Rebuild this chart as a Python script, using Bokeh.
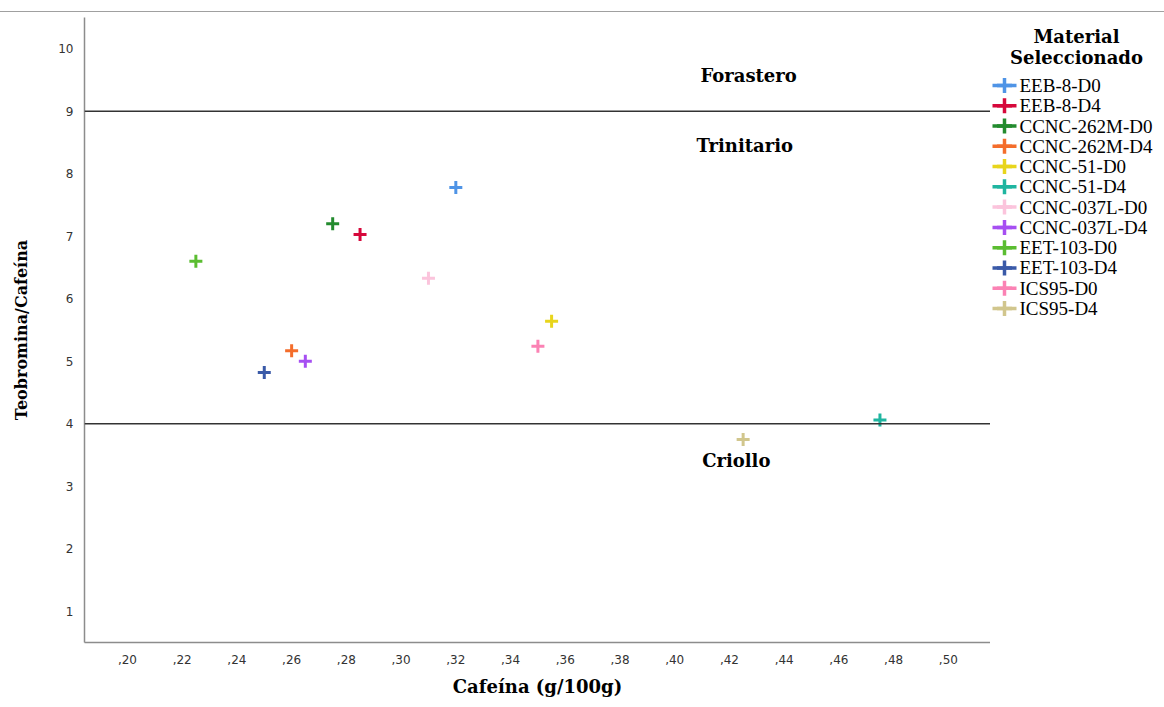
import numpy as np
from bokeh.plotting import figure
from bokeh.models import Range1d, FixedTicker, Span, Label, Div
from bokeh.core.properties import value
from bokeh.layouts import column, row
from bokeh.embed import file_html
from bokeh.resources import INLINE

# ---- data ----
materials = ["EEB-8-D0", "EEB-8-D4", "CCNC-262M-D0", "CCNC-262M-D4", "CCNC-51-D0", "CCNC-51-D4",
             "CCNC-037L-D0", "CCNC-037L-D4", "EET-103-D0", "EET-103-D4", "ICS95-D0", "ICS95-D4"]
cafeina = [0.320, 0.285, 0.275, 0.260, 0.355, 0.475, 0.310, 0.265, 0.225, 0.250, 0.350, 0.425]
teob_caf = [7.78, 7.03, 7.20, 5.17, 5.64, 4.06, 6.33, 5.00, 6.60, 4.82, 5.24, 3.75]
colors = ["#4f94e6", "#d6083b", "#238b2e", "#f46d2b", "#e8d51c", "#1fb5a0",
          "#fbc4dc", "#a64ff2", "#5bbd31", "#3a5aa8", "#fb82b4", "#d1c68d"]

x_ticks = [0.20, 0.22, 0.24, 0.26, 0.28, 0.30, 0.32, 0.34, 0.36, 0.38, 0.40, 0.42, 0.44, 0.46, 0.48, 0.50]
x_tick_labels = [",20", ",22", ",24", ",26", ",28", ",30", ",32", ",34", ",36", ",38", ",40",
                 ",42", ",44", ",46", ",48", ",50"]
y_ticks = [1, 2, 3, 4, 5, 6, 7, 8, 9, 10]

thresholds = [9, 4]
regions = ["Forastero", "Trinitario", "Criollo"]
region_x = [0.427, 0.4256, 0.4225]
region_y = [9.57, 8.46, 3.42]

legend_title = ["Material", "Seleccionado"]

SERIF_B = dict(text_font="DejaVu Serif", text_font_style="bold", text_font_size="18px",
               text_color="black", text_align="center", text_baseline="middle")

# ---- main figure ----
p = figure(width=990, height=694,
           x_range=Range1d(0.1843, 0.5154), y_range=Range1d(0.5, 10.5),
           output_backend="svg", toolbar_location=None,
           min_border_left=84, min_border_right=0, min_border_top=5, min_border_bottom=64)
p.outline_line_color = None
p.xgrid.grid_line_color = None
p.ygrid.grid_line_color = None

for ax in (p.xaxis, p.yaxis):
    ax.axis_line_color = "#8c8c8c"
    ax.axis_line_width = 1.5
    ax.major_tick_line_color = None
    ax.minor_tick_line_color = None
    ax.major_label_text_font = "DejaVu Sans"
    ax.major_label_text_font_size = "12px"
    ax.major_label_text_color = "#333333"
    ax.axis_label_text_font = "DejaVu Serif"
    ax.axis_label_text_font_style = "bold"
    ax.axis_label_text_color = "black"

p.xaxis.ticker = FixedTicker(ticks=x_ticks)
p.xaxis.major_label_overrides = dict(zip(x_ticks, x_tick_labels))
p.xaxis.major_label_standoff = 6
p.xaxis.axis_label = "Cafeína (g/100g)"
p.xaxis.axis_label_text_font_size = "18px"
p.xaxis.axis_label_standoff = 9

p.yaxis.ticker = FixedTicker(ticks=y_ticks)
p.yaxis.major_label_standoff = 5
p.yaxis.axis_label = "Teobromina/Cafeína"
p.yaxis.axis_label_text_font_size = "16px"
p.yaxis.axis_label_standoff = 24

for t in thresholds:
    p.add_layout(Span(location=t, dimension="width", line_color="#333333", line_width=1.5))

for name, rx, ry in zip(regions, region_x, region_y):
    p.add_layout(Label(x=rx, y=ry, text=name, **SERIF_B))

for name, cx, cy, col in zip(materials, cafeina, teob_caf, colors):
    p.scatter(x=[cx], y=[cy], marker="cross", size=13, line_color=col, line_width=3)

# ---- legend panel (separate figure to the right; its frame is aligned with the main frame,
#      so its ranges are expressed in page pixels) ----
lg = figure(width=174, height=694, x_range=Range1d(990, 1164), y_range=Range1d(643, 18),
            output_backend="svg", toolbar_location=None,
            x_axis_location=None, y_axis_location=None,
            min_border_left=0, min_border_right=0, min_border_top=5, min_border_bottom=64)
lg.outline_line_color = None
lg.xgrid.grid_line_color = None
lg.ygrid.grid_line_color = None

n = len(materials)
row_y = 86 + 20.27 * np.arange(n)
lg.segment(x0=np.full(n, 992.0), x1=np.full(n, 1016.0),
           y0=row_y, y1=row_y, line_color=colors, line_width=3.5)
lg.scatter(x=np.full(n, 1004.0), y=row_y, marker="cross", size=15,
           line_color=colors, line_width=3.5)
lg.text(x=np.full(n, 1019.0), y=row_y, text=materials,
        text_font=value("Liberation Serif"), text_font_size=value("19px"),
        text_color="black", text_baseline="middle", text_align="left")

lg.add_layout(Label(x=1076, y=37, text=legend_title[0], **SERIF_B))
lg.add_layout(Label(x=1076, y=57.5, text=legend_title[1], **SERIF_B))

top_line = Div(width=1164, height=1, margin=(11, 0, 0, 0),
               styles={"border-top": "1px solid #a0a0a0"})

layout = column(top_line, row(p, lg, spacing=0), spacing=0)
open("out.html", "w").write(file_html(layout, INLINE))
